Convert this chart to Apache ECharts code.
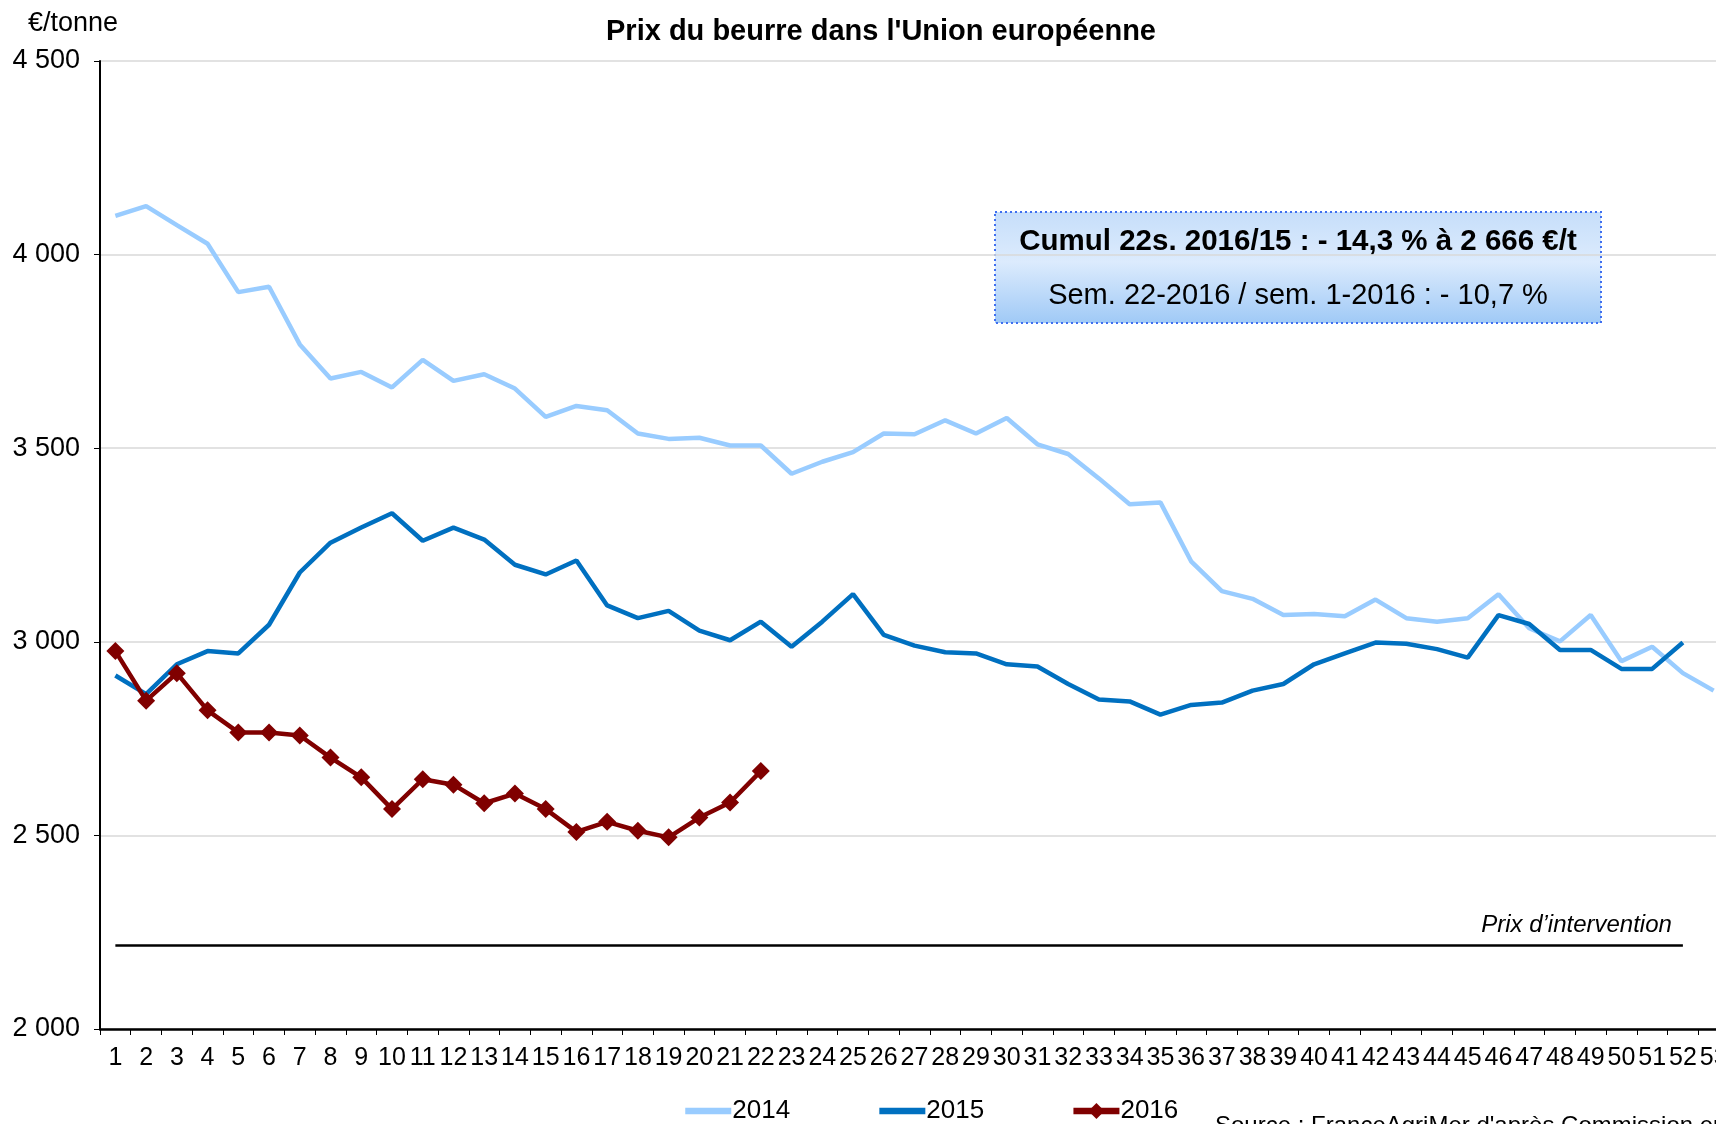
<!DOCTYPE html>
<html>
<head>
<meta charset="utf-8">
<script src="https://cdn.jsdelivr.net/npm/echarts@6/dist/echarts.min.js"></script>
<style>
html,body{margin:0;padding:0;background:#fff;}
#chart{width:1716px;height:1124px;}
</style>
</head>
<body>
<div id="chart"></div>
<script>
var weeks = [];
for (var i = 1; i <= 53; i++) weeks.push(String(i));

var prix2014 = [4100,4125,4076,4028,3903,3917,3768,3680,3697,3657,3728,3674,3691,3654,3581,3609,3598,3538,3524,3527,3507,3507,3434,3465,3490,3538,3536,3572,3538,3578,3510,3485,3422,3355,3360,3208,3131,3111,3069,3072,3066,3109,3061,3052,3061,3123,3035,3001,3069,2950,2987,2919,2874];
var prix2015 = [2913,2865,2942,2976,2970,3044,3179,3256,3295,3332,3261,3295,3264,3199,3174,3210,3094,3061,3080,3029,3004,3052,2987,3052,3123,3018,2990,2973,2970,2942,2936,2891,2851,2846,2812,2837,2843,2874,2891,2942,2970,2998,2995,2981,2959,3069,3046,2979,2979,2930,2930,2998];
var prix2016 = [2976,2848,2919,2823,2766,2766,2758,2701,2650,2568,2645,2631,2583,2608,2568,2509,2535,2512,2495,2546,2585,2666];
var interventionPrice = 2217.5;
var interventionStart = '1', interventionEnd = '52';

var titleText = "Prix du beurre dans l'Union européenne";
var unitText = "€/tonne";
var boxLine1 = "Cumul 22s. 2016/15 : - 14,3 % à 2 666 €/t";
var boxLine2 = "Sem. 22-2016 / sem. 1-2016 : - 10,7 %";
var sourceText = "Source : FranceAgriMer d'après Commission européenne";

var arial = "'Liberation Sans',Arial,sans-serif";

var chart = echarts.init(document.getElementById('chart'));
chart.setOption({
  animation: false,
  backgroundColor: '#ffffff',
  title: {
    text: titleText,
    left: 876, top: 12, textAlign: 'center',
    textStyle: {fontFamily: arial, fontSize: 29, fontWeight: 'bold', color: '#000'}
  },
  legend: {
    left: 677, top: 1093,
    itemWidth: 46, itemHeight: 20, itemGap: 86,
    textStyle: {fontFamily: arial, fontSize: 26, color: '#000', padding: [0,0,0,-4]},
    data: [
      {name: '2014', itemStyle: {opacity: 0}, lineStyle: {width: 6.5}},
      {name: '2015', itemStyle: {opacity: 0}, lineStyle: {width: 6.5}},
      {name: '2016', lineStyle: {width: 6.5}}
    ]
  },
  grid: {left: 100, right: -13, top: 61, bottom: 95, containLabel: false, outerBoundsMode: 'none'},
  xAxis: {
    type: 'category',
    data: weeks,
    boundaryGap: true,
    axisLine: {lineStyle: {color: '#000', width: 2.5}},
    axisTick: {show: true, length: 6, lineStyle: {color: '#000', width: 1}, interval: 0},
    axisLabel: {interval: 0, margin: 17, fontFamily: arial, fontSize: 25, color: '#000', hideOverlap: false},
    splitLine: {show: false}
  },
  yAxis: {
    type: 'value',
    min: 2000, max: 4500, interval: 500,
    axisLine: {show: true, lineStyle: {color: '#000', width: 2}},
    axisTick: {show: true, length: 6, lineStyle: {color: '#000', width: 1}},
    axisLabel: {
      margin: 20, fontFamily: arial, fontSize: 27, color: '#000',
      formatter: function (v) { var s = String(v); return s.length > 3 ? s.slice(0, s.length-3) + ' ' + s.slice(-3) : s; }
    },
    splitLine: {show: true, lineStyle: {color: '#d9d9d9', width: 1.5}}
  },
  series: [
    {
      name: '2014', type: 'line', data: prix2014,
      symbol: 'none', showSymbol: false,
      lineStyle: {color: '#99ccff', width: 4.5}, itemStyle: {color: '#99ccff'},
      z: 2
    },
    {
      name: '2015', type: 'line', data: prix2015,
      symbol: 'none', showSymbol: false,
      lineStyle: {color: '#0070c0', width: 4.5}, itemStyle: {color: '#0070c0'},
      z: 3,
      markLine: {
        silent: true, symbol: ['none','none'], animation: false,
        lineStyle: {color: '#000', width: 2.5, type: 'solid'},
        label: {
          show: true, position: 'insideEndTop', formatter: "Prix d’intervention",
          fontFamily: arial, fontStyle: 'italic', fontSize: 24, color: '#000', distance: [11, 7]
        },
        data: [[{coord: [interventionStart, interventionPrice]}, {coord: [interventionEnd, interventionPrice]}]]
      }
    },
    {
      name: '2016', type: 'line', data: prix2016,
      symbol: 'diamond', symbolSize: 18, showSymbol: true,
      lineStyle: {color: '#800000', width: 4.5}, itemStyle: {color: '#800000'},
      z: 4
    }
  ],
  graphic: [
    {
      type: 'text', left: 28, top: 10,
      style: {text: unitText, fontFamily: arial, fontSize: 27, fill: '#000'}
    },
    {
      type: 'group', left: 994, top: 211,
      children: [
        {
          type: 'rect', shape: {x: 0, y: 0, width: 606, height: 111},
          style: {
            fill: new echarts.graphic.LinearGradient(0, 0, 0, 1, [
              {offset: 0, color: '#c6defa'},
              {offset: 0.45, color: '#dcebfd'},
              {offset: 1, color: '#9fc9f6'}
            ]),
            stroke: '#3f6ff0', lineWidth: 2, lineDash: [2, 3]
          }
        },
        {
          type: 'text', x: 303, y: 30,
          style: {text: boxLine1, fontFamily: arial, fontSize: 29.5, fontWeight: 'bold', fill: '#000', align: 'center', verticalAlign: 'middle'}
        },
        {
          type: 'text', x: 303, y: 84,
          style: {text: boxLine2, fontFamily: arial, fontSize: 29, fill: '#000', align: 'center', verticalAlign: 'middle'}
        }
      ]
    },
    {
      type: 'text', left: 1215, top: 1114,
      style: {text: sourceText, fontFamily: arial, fontSize: 24, fill: '#000'}
    }
  ]
});
</script>
</body>
</html>
